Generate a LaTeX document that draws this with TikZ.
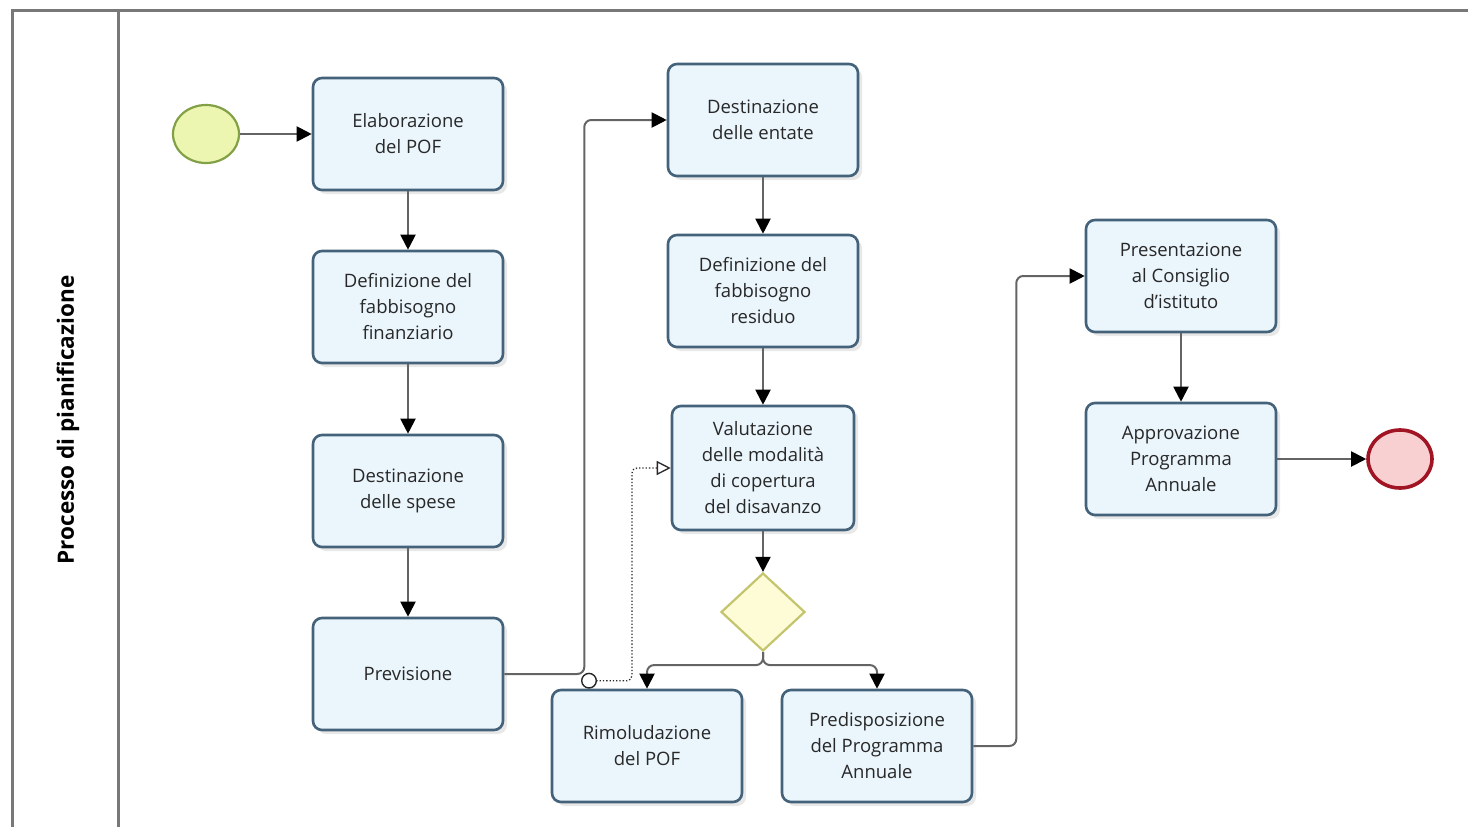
\documentclass[tikz,border=0pt]{standalone}
\usepackage{fontspec}
\setmainfont{Open Sans}
\usetikzlibrary{arrows.meta,shapes.geometric,shadows}
\definecolor{boxline}{RGB}{68,98,122}
\definecolor{boxfill}{RGB}{234,245,252}
\definecolor{txt}{RGB}{40,40,40}
\definecolor{flowline}{RGB}{100,100,100}
\definecolor{frameline}{RGB}{120,120,120}
\definecolor{startfill}{RGB}{236,246,176}
\definecolor{startline}{RGB}{130,160,70}
\definecolor{endfill}{RGB}{248,208,210}
\definecolor{endline}{RGB}{160,20,35}
\definecolor{gwfill}{RGB}{253,252,214}
\definecolor{gwline}{RGB}{196,196,110}
\tikzset{
  task/.style={draw=boxline, fill=boxfill, line width=2.6pt, rounded corners=9pt,
    minimum width=190pt, minimum height=112pt, align=center, text=txt,
    font=\fontsize{18.5}{26}\selectfont, inner sep=2pt,
    drop shadow={opacity=0.18, shadow xshift=4pt, shadow yshift=-4pt}},
  flow/.style={draw=flowline, line width=2pt, rounded corners=7pt,
    -{Triangle[length=15pt,width=15pt,color=black]}},
  msg/.style={draw=txt, line width=1.3pt, dotted, rounded corners=5pt,
    {Circle[open,length=16pt,width=16pt,fill=white,line width=1.4pt]}-{Triangle[open,length=14pt,width=14pt]}},
  startev/.style={ellipse, draw=startline, fill=startfill, line width=2.2pt,
    minimum width=66pt, minimum height=58pt, inner sep=0pt},
  endev/.style={ellipse, draw=endline, fill=endfill, line width=3.6pt,
    minimum width=64pt, minimum height=58pt, inner sep=0pt},
  gateway/.style={diamond, draw=gwline, fill=gwfill, line width=2.2pt,
    minimum width=84pt, minimum height=78pt, inner sep=0pt},
  frame/.style={draw=frameline, line width=3pt}
}
\begin{document}
\begin{tikzpicture}[x=1pt,y=-1pt]
\useasboundingbox (0,0) rectangle (1468,827);
% pool frame
\coordinate (ftl) at (12,10);
\coordinate (ftr) at (1468,10);
\coordinate (fbl) at (12,827);
\coordinate (ltop) at (118,10);
\coordinate (lbot) at (118,827);
\draw[frame] (fbl) -- (ftl) -- (ftr);
\draw[frame] (ltop) -- (lbot);
\node[rotate=90, text=black, font=\fontsize{22.5}{26}\selectfont\bfseries] (lane) at (68,420) {Processo di pianificazione};

% events
\node[startev] (start) at (206,134) {};
\node[endev] (end) at (1400,459) {};

% tasks
\node[task] (elab) at (408,134) {Elaborazione\\del POF};
\node[task] (deffin) at (408,307) {Definizione del\\fabbisogno\\finanziario};
\node[task] (dspese) at (408,491) {Destinazione\\delle spese};
\node[task] (prev) at (408,674) {Previsione};
\node[task] (dent) at (763,120) {Destinazione\\delle entate};
\node[task] (defres) at (763,291) {Definizione del\\fabbisogno\\residuo};
\node[task, minimum width=182pt, minimum height=124pt] (valut) at (763,468) {Valutazione\\delle modalità\\di copertura\\del disavanzo};
\node[gateway] (gw) at (763,612) {};
\node[task] (rim) at (647,746) {Rimoludazione\\del POF};
\node[task] (pred) at (877,746) {Predisposizione\\del Programma\\Annuale};
\node[task] (pres) at (1181,276) {Presentazione\\al Consiglio\\d'istituto};
\node[task] (appr) at (1181,459) {Approvazione\\Programma\\Annuale};

% sequence flows
\draw[flow] (start) -- (elab);
\draw[flow] (elab) -- (deffin);
\draw[flow] (deffin) -- (dspese);
\draw[flow] (dspese) -- (prev);
\draw[flow] (prev.east) -- ++(80,0) |- (dent.west);
\draw[flow] (dent) -- (defres);
\draw[flow] (defres) -- (valut);
\draw[flow] (valut) -- (gw);
\draw[flow] (gw.south) -- ++(0,13) -| (rim.north);
\draw[flow] (gw.south) -- ++(0,13) -| (pred.north);
\draw[flow] (pred.east) -- ++(43,0) |- (pres.west);
\draw[flow] (pres) -- (appr);
\draw[flow] (appr) -- (end);

% message flow
\coordinate (mstart) at ([xshift=-66pt,yshift=8pt]rim.north);
\draw[msg] (mstart) -- ++(51,0) |- (valut.west);
\end{tikzpicture}
\end{document}
